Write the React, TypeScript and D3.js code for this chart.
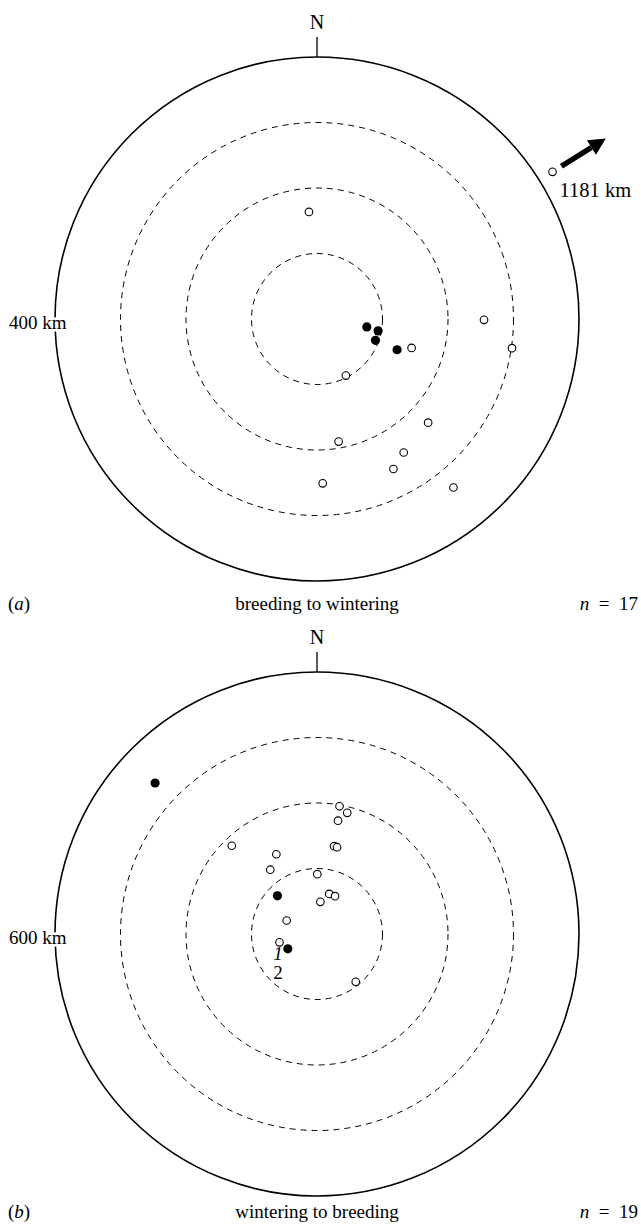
import React from "react";
import * as d3 from "d3";

// Panel (a): breeding to wintering (distance km, bearing deg from N, filled?)
const aDistKm = [77, 95, 95, 131, 151, 232, 190, 243, 257, 251, 331, 164, 255, 301, 97, 1181];
const aBearing = [99, 101, 110, 111, 107, 133, 170, 147, 153, 178, 141, 355.7, 90.3, 98.5, 153, 58];
const aFilled = [true, true, true, true, false, false, false, false, false, false, false, false, false, false, false, false];

// Panel (b): wintering to breeding
const bDistKm = [507, 297, 286, 264, 281, 205, 204, 205, 182, 137, 126, 96, 96, 74, 76, 88, 75, 141];
const bBearing = [313, 10, 14, 10.5, 316, 11, 13, 333, 324, 0.3, 314, 17, 25.5, 6, 294, 257.5, 243, 141];
const bFilled = [true, false, false, false, false, false, false, false, false, false, true, false, false, false, false, false, true, false];

const ringFractions = [0.25, 0.5, 0.75];
const panelTitles = ["breeding to wintering", "wintering to breeding"];
const panelLetters = ["a", "b"];
const panelN = [17, 19];
const panelMaxKm = [400, 600];

const W = 641;
const H = 1225;
const R = 262;
const CX = 317;
const CY = [319, 934];
const CAPTION_Y = [610, 1218];
const FONT = "'Liberation Serif', 'Times New Roman', serif";

function Panel({ idx, dist, bearing, filled }: { idx: number; dist: number[]; bearing: number[]; filled: boolean[] }) {
  const cy = CY[idx];
  const maxKm = panelMaxKm[idx];
  const r = d3.scaleLinear().domain([0, maxKm]).range([0, R]);
  const ang = (deg: number) => (deg * Math.PI) / 180;
  const pos = (km: number, deg: number) => {
    const rr = Math.min(r(km), R * 1.06);
    return [CX + rr * Math.sin(ang(deg)), cy - rr * Math.cos(ang(deg))];
  };
  const outliers = dist.map((d, i) => ({ d, b: bearing[i] })).filter((o) => o.d > maxKm);
  const capY = CAPTION_Y[idx];
  return (
    <g>
      <circle cx={CX} cy={cy} r={R} fill="none" stroke="#000" strokeWidth={1.6} />
      {ringFractions.map((f) => (
        <circle key={f} cx={CX} cy={cy} r={r(maxKm * f)} fill="none" stroke="#000" strokeWidth={1} strokeDasharray="6 5" />
      ))}
      <line x1={CX} x2={CX} y1={cy - R} y2={cy - R - 20} stroke="#000" strokeWidth={1.3} />
      <text x={CX} y={cy - R - 28} textAnchor="middle" fontFamily={FONT} fontSize={20}>N</text>
      <text x={9} y={cy + 10} textAnchor="start" fontFamily={FONT} fontSize={19}
        stroke="#fff" strokeWidth={5} paintOrder="stroke" fill="#000">{`${maxKm} km`}</text>
      {dist.map((d, i) => {
        const [x, y] = pos(d, bearing[i]);
        return filled[i] ? (
          <circle key={i} cx={x} cy={y} r={4.6} fill="#000" />
        ) : (
          <circle key={i} cx={x} cy={y} r={3.8} fill="#fff" stroke="#000" strokeWidth={1.1} />
        );
      })}
      {outliers.map((o, i) => {
        const a = ang(o.b);
        const r0 = R * 1.1, r1 = R * 1.3;
        const x0 = CX + r0 * Math.sin(a), y0 = cy - r0 * Math.cos(a);
        const x1 = CX + r1 * Math.sin(a), y1 = cy - r1 * Math.cos(a);
        const headLen = 17, headW = 8.5;
        const ux = Math.sin(a), uy = -Math.cos(a);
        const bx = x1 - ux * headLen, by = y1 - uy * headLen;
        const px = -uy, py = ux;
        const [lx, ly] = pos(o.d, o.b);
        return (
          <g key={i}>
            <line x1={x0} y1={y0} x2={bx} y2={by} stroke="#000" strokeWidth={5.5} />
            <polygon points={`${x1},${y1} ${bx + px * headW},${by + py * headW} ${bx - px * headW},${by - py * headW}`} fill="#000" />
            <text x={lx + 7} y={ly + 25} fontFamily={FONT} fontSize={20.5}>{`${o.d} km`}</text>
          </g>
        );
      })}
      <text x={8} y={capY} fontFamily={FONT} fontSize={19}>
        (<tspan fontStyle="italic">{panelLetters[idx]}</tspan>)
      </text>
      <text x={CX} y={capY} textAnchor="middle" fontFamily={FONT} fontSize={19}>{panelTitles[idx]}</text>
      <text x={638} y={capY} textAnchor="end" fontFamily={FONT} fontSize={19}>
        <tspan fontStyle="italic">n</tspan>{`\u2002=\u2002${panelN[idx]}`}
      </text>
    </g>
  );
}

export default function App() {
  return (
    <svg width={W} height={H} style={{ position: "absolute", left: 0, top: 0, background: "#fff" }}>
      <rect width={W} height={H} fill="#fff" />
      <Panel idx={0} dist={aDistKm} bearing={aBearing} filled={aFilled} />
      <Panel idx={1} dist={bDistKm} bearing={bBearing} filled={bFilled} />
      <text x={278} y={960} textAnchor="middle" fontFamily={FONT} fontSize={19} fontStyle="italic">1</text>
      <text x={278} y={979} textAnchor="middle" fontFamily={FONT} fontSize={19}>2</text>
    </svg>
  );
}
